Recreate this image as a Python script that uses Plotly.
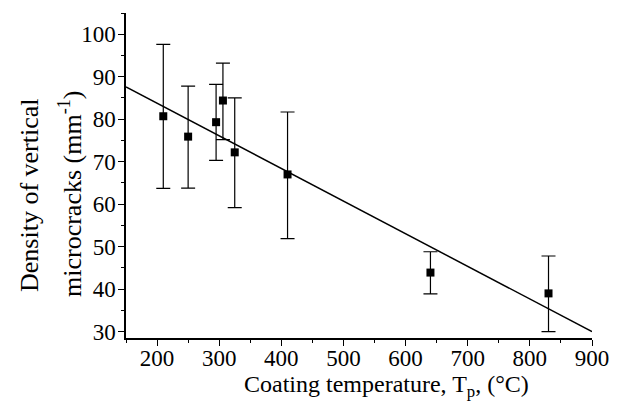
import plotly.graph_objects as go

temperature = [210, 250, 295, 306, 325, 410, 640, 830]
density = [80.7, 75.9, 79.3, 84.4, 72.2, 67.0, 43.9, 39.0]
upper = [97.6, 87.8, 88.2, 93.2, 85.0, 81.7, 48.8, 47.8]
lower = [63.7, 63.8, 70.3, 75.2, 59.2, 51.9, 38.9, 30.0]
fit_x = [150, 900]
fit_y = [87.6, 30.0]
x_ticks = [200, 300, 400, 500, 600, 700, 800, 900]
y_ticks = [30, 40, 50, 60, 70, 80, 90, 100]

err_plus = [u - d for u, d in zip(upper, density)]
err_minus = [d - l for d, l in zip(density, lower)]

FONT = "Liberation Serif"

# page has an 8px body margin; figure sized to fit the 621x410 window
OFF = 8
FIG_W, FIG_H = 621 - 2 * OFF, 410 - 2 * OFF
L, T = 126 - OFF, 13 - OFF
R = FIG_W - (592 - OFF)
B = FIG_H - (338 - OFF)

fig = go.Figure()
fig.add_trace(go.Scatter(
    x=fit_x, y=fit_y, mode="lines",
    line=dict(color="black", width=1.5), showlegend=False, hoverinfo="skip"))
fig.add_trace(go.Scatter(
    x=temperature, y=density, mode="markers",
    marker=dict(symbol="square", size=8, color="black"),
    error_y=dict(type="data", array=err_plus, arrayminus=err_minus,
                 color="black", thickness=1.2, width=7),
    showlegend=False))

axis_common = dict(
    showgrid=False, zeroline=False, showline=True, linecolor="black", linewidth=1.5,
    ticks="outside", ticklen=6, tickwidth=1.2, tickcolor="black",
    tickfont=dict(family=FONT, size=23, color="black"),
)

fig.update_xaxes(range=[150, 900], tickvals=x_ticks, ticklabelstandoff=-7,
                 minor=dict(ticks="outside", ticklen=3, tickwidth=1, tickcolor="black", dtick=50, tick0=150),
                 **axis_common)
fig.update_yaxes(range=[28.5, 105], tickvals=y_ticks, ticklabelstandoff=-2,
                 minor=dict(ticks="outside", ticklen=3, tickwidth=1, tickcolor="black", dtick=5, tick0=30),
                 **axis_common)

W_PLOT = FIG_W - L - R
H_PLOT = FIG_H - T - B


def px(xp):
    return (xp - 126) / W_PLOT


def py(yp):
    return (338 - yp) / H_PLOT


fig.add_annotation(text="Density of vertical", xref="paper", yref="paper",
                   x=px(29), y=py(195), textangle=-90,
                   showarrow=False, xanchor="center", yanchor="middle",
                   font=dict(family=FONT, size=26, color="black"))
fig.add_annotation(text="microcracks (mm<sup>-1</sup>)", xref="paper", yref="paper",
                   x=px(71), y=py(194), textangle=-90,
                   showarrow=False, xanchor="center", yanchor="middle",
                   font=dict(family=FONT, size=26, color="black"))
fig.add_annotation(text="Coating temperature, T<sub>p</sub>, (°C)", xref="paper", yref="paper",
                   x=px(386), y=py(386),
                   showarrow=False, xanchor="center", yanchor="middle",
                   font=dict(family=FONT, size=24, color="black"))

fig.update_layout(
    width=FIG_W, height=FIG_H,
    margin=dict(l=L, r=R, t=T, b=B, autoexpand=False),
    paper_bgcolor="white", plot_bgcolor="white",
)

fig.write_html("out.html")
